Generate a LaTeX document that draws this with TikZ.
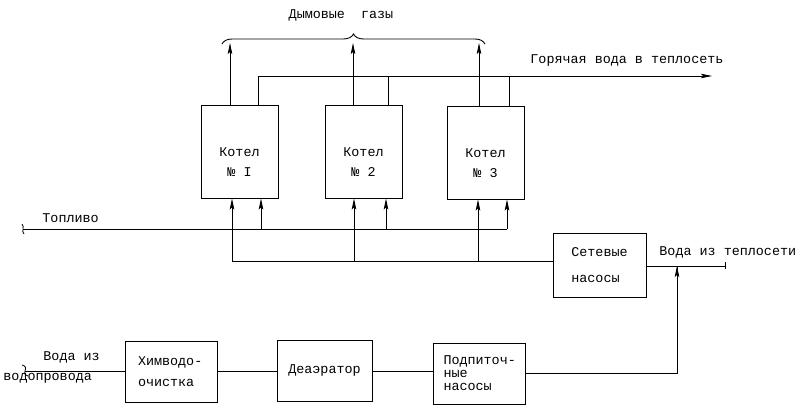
\documentclass[tikz,border=0pt]{standalone}
\usepackage{fontspec}
\setmonofont{Liberation Mono}
\usetikzlibrary{arrows.meta,decorations.pathreplacing,calc}
\begin{document}
\begin{tikzpicture}[x=1pt,y=-1pt,line width=0.9pt,
  box/.style={draw,inner sep=0pt},
  txt/.style={font=\ttfamily\fontsize{13.4}{14}\selectfont,inner sep=0pt},
  arr/.style={-{Stealth[length=11pt,width=4.5pt,inset=2pt]}}]
\useasboundingbox (0,0) rectangle (801,414);

% boilers
\node[box,minimum width=77,minimum height=93] (k1) at (239.5,151.5) {};
\node[box,minimum width=77,minimum height=93] (k2) at (363.5,151.5) {};
\node[box,minimum width=77,minimum height=93] (k3) at (485.5,152.5) {};
\node[txt,align=center,font=\ttfamily\fontsize{13.4}{20}\selectfont] (t1) at (239.5,162) {Котел\\№ I};
\node[txt,align=center,font=\ttfamily\fontsize{13.4}{20}\selectfont] (t2) at (363.5,162) {Котел\\№ 2};
\node[txt,align=center,font=\ttfamily\fontsize{13.4}{20}\selectfont] (t3) at (485.5,163) {Котел\\№ 3};

% pumps
\node[box,minimum width=93,minimum height=64,align=left,txt,font=\ttfamily\fontsize{13.4}{26}\selectfont] (pump) at (599.5,265) {Сетевые\\насосы};

% bottom row
\node[box,minimum width=92,minimum height=61,align=left,txt,font=\ttfamily\fontsize{13.4}{21}\selectfont,text width=66pt] (him) at (171,371.5) {Химводо-\\очистка};
\node[box,minimum width=95,minimum height=61,txt] (dea) at (324.5,370.5) {Деаэратор};
\node[box,minimum width=92,minimum height=61,align=left,txt,font=\ttfamily\fontsize{13.4}{13}\selectfont,text width=71pt] (podp) at (479,373.5) {Подпиточ-\\ные\\насосы};

% labels
\node[txt] (lgas) at (341,15) {Дымовые\ \ газы};
\node[txt,anchor=west] (lhot) at (530,60) {Горячая вода в теплосеть};
\node[txt,anchor=west] (lfuel) at (42,218.5) {Топливо};
\node[txt,anchor=west] (lret) at (659,252) {Вода из теплосети};
\node[txt,anchor=west] (lw1) at (43,357) {Вода из};
\node[txt,anchor=west] (lw2) at (3,378) {водопровода};

% coordinates
\coordinate (g1) at (230,43);
\coordinate (g2) at (353,43);
\coordinate (g3) at (479,43);
\coordinate (h1) at (258,76);
\coordinate (h2) at (388,76);
\coordinate (h3) at (509,76);
\coordinate (hend) at (712,76);
\coordinate (n1) at (232,261);
\coordinate (n2) at (354,261);
\coordinate (n3) at (478,261);
\coordinate (f0) at (23,229);
\coordinate (f1) at (261,229);
\coordinate (f2) at (386,229);
\coordinate (f3) at (507,229);
\coordinate (rend) at (725,266);
\coordinate (mk) at (677,266);
\coordinate (mkb) at (677,373);
\coordinate (w0) at (25,371);

% smoke
\draw[arr] (k1.north -| g1) -- (g1);
\draw[arr] (k2.north -| g2) -- (g2);
\draw[arr] (k3.north -| g3) -- (g3);
\draw[decorate,decoration={brace,amplitude=10pt}] (222,44) -- (485,44);

% hot water
\draw (k1.north -| h1) -- (h1);
\draw (k2.north -| h2) -- (h2);
\draw (k3.north -| h3) -- (h3);
\draw[arr] (h1) -- (hend);

% fuel
\draw (f0) -- (f3);
\draw[arr] (f1) -- (k1.south -| f1);
\draw[arr] (f2) -- (k2.south -| f2);
\draw[arr] (f3) -- (k3.south -| f3);
\draw[line width=0.8pt] (22,224) .. controls (25,227) and (21,231) .. (24,234);

% network water
\draw (pump.west |- n1) -- (n1);
\draw[arr] (n1) -- (k1.south -| n1);
\draw[arr] (n2) -- (k2.south -| n2);
\draw[arr] (n3) -- (k3.south -| n3);
\draw (pump.east |- rend) -- (rend);
\draw (725,262.5) -- (725,269.5);

% make-up
\draw (podp.east |- mkb) -- (mkb) -- (mk);
\draw[arr] (677,300) -- (mk);

% bottom chain
\draw (w0) -- (him.west |- w0);
\draw (him.east |- w0) -- (dea.west |- w0);
\draw (dea.east |- w0) -- (podp.west |- w0);
\draw[line width=0.8pt] (22,365) .. controls (26,366) and (26,368) .. (25,371) .. controls (24,374) and (26,376) .. (28,376);
\end{tikzpicture}
\end{document}
